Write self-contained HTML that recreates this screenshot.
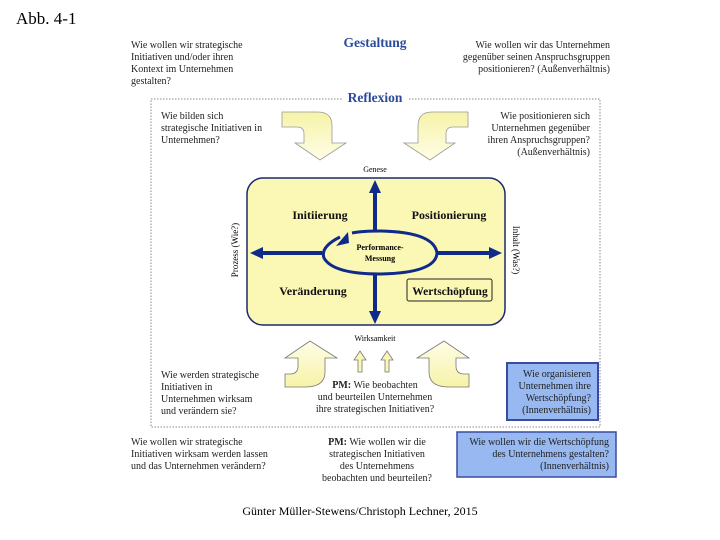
<!DOCTYPE html>
<html><head><meta charset="utf-8"><style>
body{margin:0;background:#fff;}
svg{display:block;}
text{font-family:"Liberation Serif",serif;}
</style></head><body>
<svg width="720" height="540" viewBox="0 0 720 540" xmlns="http://www.w3.org/2000/svg">
<defs>
<linearGradient id="ya" x1="0" y1="0" x2="0" y2="1"><stop offset="0" stop-color="#f6f3a8"/><stop offset="1" stop-color="#fffde6"/></linearGradient>
<linearGradient id="yb" x1="0" y1="1" x2="0" y2="0"><stop offset="0" stop-color="#f6f3a8"/><stop offset="1" stop-color="#fffde6"/></linearGradient>
</defs>
<text x="16" y="24" font-size="17">Abb. 4-1</text>
<text x="375" y="47" font-size="13.5" font-weight="bold" fill="#2a4a9a" text-anchor="middle">Gestaltung</text>
<g font-size="10" fill="#222">
<text x="131" y="48">Wie wollen wir strategische</text>
<text x="131" y="60">Initiativen und/oder ihren</text>
<text x="131" y="72">Kontext im Unternehmen</text>
<text x="131" y="84">gestalten?</text>
<g text-anchor="end">
<text x="610" y="48">Wie wollen wir das Unternehmen</text>
<text x="610" y="60">gegenüber seinen Anspruchsgruppen</text>
<text x="610" y="72">positionieren? (Außenverhältnis)</text>
</g>
</g>
<rect x="151" y="99" width="449" height="328" fill="none" stroke="#888" stroke-width="1" stroke-dasharray="1.5,1.5"/>
<rect x="343" y="90" width="66" height="16" fill="#fff"/>
<text x="375" y="102" font-size="13.5" font-weight="bold" fill="#2a4a9a" text-anchor="middle">Reflexion</text>
<g font-size="10" fill="#222">
<text x="161" y="119">Wie bilden sich</text>
<text x="161" y="131">strategische Initiativen in</text>
<text x="161" y="143">Unternehmen?</text>
<g text-anchor="end">
<text x="590" y="119">Wie positionieren sich</text>
<text x="590" y="131">Unternehmen gegenüber</text>
<text x="590" y="143">ihren Anspruchsgruppen?</text>
<text x="590" y="155">(Außenverhältnis)</text>
</g>
</g>
<path d="M282 112 H318 Q332 112 332 126 V143 H346 L320 160 L295 143 H304 V134 Q304 127 297 127 H282 Z" fill="url(#ya)" stroke="#999" stroke-width="0.8"/>
<path d="M468 112 H432 Q418 112 418 126 V143 H404 L430 160 L455 143 H446 V134 Q446 127 453 127 H468 Z" fill="url(#ya)" stroke="#999" stroke-width="0.8"/>
<text x="375" y="172" font-size="8" text-anchor="middle">Genese</text>
<rect x="247" y="178" width="258" height="147" rx="16" fill="#fbf7b4" stroke="#1a2a6e" stroke-width="1.5"/>
<g stroke="#0e2a8a" stroke-width="4" fill="none">
<line x1="375" y1="190" x2="375" y2="231"/>
<line x1="375" y1="275" x2="375" y2="312"/>
<line x1="262" y1="253" x2="322" y2="253"/>
<line x1="436" y1="253" x2="492" y2="253"/>
<path d="M340 237 Q320 247 324 258 Q333 274 380 274 Q436 273 437 253 Q434 232 380 231 Q362 231 352 233" stroke-width="3"/>
</g>
<g fill="#0e2a8a">
<polygon points="375,180 369,193 381,193"/>
<polygon points="375,324 369,311 381,311"/>
<polygon points="250,253 263,247 263,259"/>
<polygon points="502,253 489,247 489,259"/>
<polygon points="348,232 336,246 349,243"/>
</g>
<text x="380" y="250" font-size="8" font-weight="bold" text-anchor="middle">Performance-</text>
<text x="380" y="261" font-size="8" font-weight="bold" text-anchor="middle">Messung</text>
<g font-size="12" font-weight="bold" fill="#111" text-anchor="middle">
<text x="320" y="219">Initiierung</text>
<text x="449" y="219">Positionierung</text>
<text x="313" y="295">Veränderung</text>
<text x="450" y="295" font-size="11.5">Wertschöpfung</text>
</g>
<rect x="407" y="279" width="85" height="22" rx="2" fill="none" stroke="#222" stroke-width="1"/>
<text transform="translate(238,250) rotate(-90)" font-size="9" text-anchor="middle">Prozess (Wie?)</text>
<text transform="translate(513,250) rotate(90)" font-size="9" text-anchor="middle">Inhalt (Was?)</text>
<text x="375" y="341" font-size="8" text-anchor="middle">Wirksamkeit</text>
<path d="M310 341 L337 358 H325 V372 Q325 387 305 387 H285 V374 H290 Q298 374 298 366 V358 H285 Z" fill="url(#yb)" stroke="#777" stroke-width="0.8"/>
<path d="M444 341 L417 358 H429 V372 Q429 387 449 387 H469 V374 H464 Q456 374 456 366 V358 H469 Z" fill="url(#yb)" stroke="#777" stroke-width="0.8"/>
<path d="M358 372 V360 H354 L360 351 L366 360 H362 V372 Z" fill="#fbf7b4" stroke="#777" stroke-width="0.8"/>
<path d="M385 372 V360 H381 L387 351 L393 360 H389 V372 Z" fill="#fbf7b4" stroke="#777" stroke-width="0.8"/>
<g font-size="10" fill="#222">
<text x="161" y="378">Wie werden strategische</text>
<text x="161" y="390">Initiativen in</text>
<text x="161" y="402">Unternehmen wirksam</text>
<text x="161" y="414">und verändern sie?</text>
<g text-anchor="middle">
<text x="375" y="388"><tspan font-weight="bold">PM:</tspan> Wie beobachten</text>
<text x="375" y="400">und beurteilen Unternehmen</text>
<text x="375" y="412">ihre strategischen Initiativen?</text>
</g>
</g>
<rect x="507" y="363" width="91" height="57" fill="#97b8f0" stroke="#3a4aa0" stroke-width="2"/>
<g font-size="10" fill="#222" text-anchor="end">
<text x="591" y="377">Wie organisieren</text>
<text x="591" y="389">Unternehmen ihre</text>
<text x="591" y="401">Wertschöpfung?</text>
<text x="591" y="413">(Innenverhältnis)</text>
</g>
<g font-size="10" fill="#222">
<text x="131" y="445">Wie wollen wir strategische</text>
<text x="131" y="457">Initiativen wirksam werden lassen</text>
<text x="131" y="469">und das Unternehmen verändern?</text>
<g text-anchor="middle">
<text x="377" y="445"><tspan font-weight="bold">PM:</tspan> Wie wollen wir die</text>
<text x="377" y="457">strategischen Initiativen</text>
<text x="377" y="469">des Unternehmens</text>
<text x="377" y="481">beobachten und beurteilen?</text>
</g>
</g>
<rect x="457" y="432" width="159" height="45" fill="#97b8f0" stroke="#3a4aa0" stroke-width="1.5"/>
<g font-size="10" fill="#222" text-anchor="end">
<text x="609" y="445">Wie wollen wir die Wertschöpfung</text>
<text x="609" y="457">des Unternehmens gestalten?</text>
<text x="609" y="469">(Innenverhältnis)</text>
</g>
<text x="360" y="515" font-size="12" text-anchor="middle">Günter Müller-Stewens/Christoph Lechner, 2015</text>
</svg>
</body></html>
